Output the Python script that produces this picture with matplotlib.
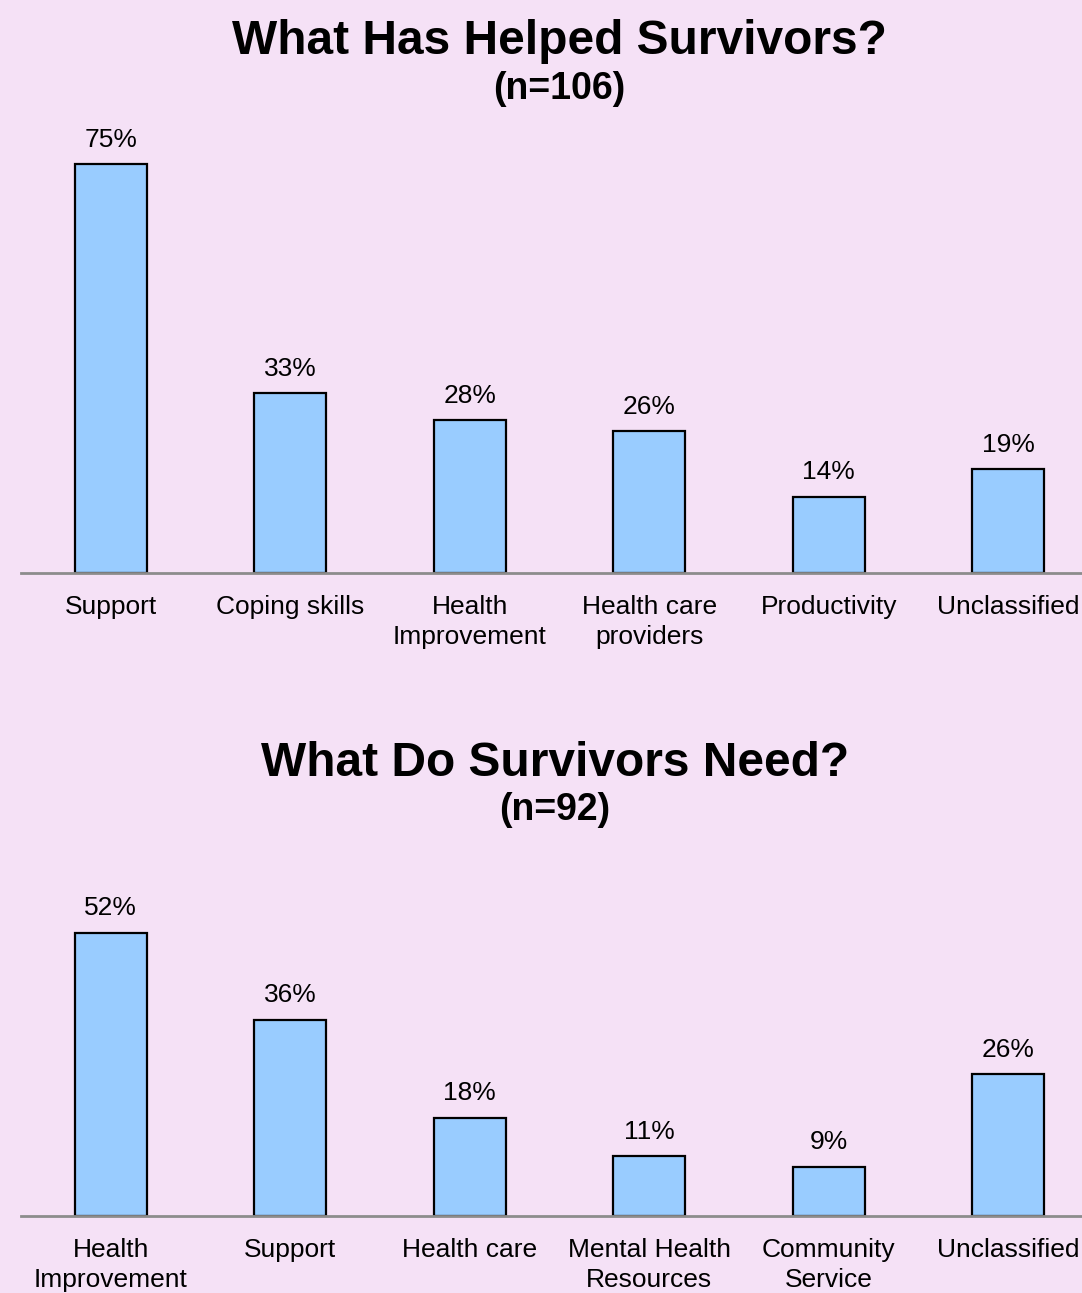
import matplotlib.pyplot as plt

plt.rcParams['font.family'] = ['Liberation Sans', 'DejaVu Sans']

helped_labels = ["Support", "Coping skills", "Health\nImprovement",
                 "Health care\nproviders", "Productivity", "Unclassified"]
helped_pct = [75, 33, 28, 26, 14, 19]

need_labels = ["Health\nImprovement", "Support", "Health care",
               "Mental Health\nResources", "Community\nService", "Unclassified"]
need_pct = [52, 36, 18, 11, 9, 26]

bg = "#F5E1F6"
bar_color = "#99CCFF"

W, H = 1082, 1293
fig = plt.figure(figsize=(W / 100, H / 100), dpi=100, facecolor=bg)


def draw_panel(rect, labels, values, title, subtitle, title_y, sub_y, cx):
    ax = fig.add_axes(rect)
    ax.set_facecolor(bg)
    x = range(len(values))
    ax.bar(x, values, width=0.4, color=bar_color, edgecolor="black", linewidth=1.6, zorder=2)
    for xi, v in zip(x, values):
        ax.annotate(f"{v}%", (xi, v), xytext=(0, 9), textcoords="offset points",
                    ha="center", va="bottom", fontsize=19)
    ax.set_xlim(-0.5, len(values) - 0.5)
    ax.set_ylim(0, 80)
    ax.set_xticks(list(x))
    ax.set_xticklabels(labels, fontsize=19, linespacing=1.32)
    ax.tick_params(axis="x", length=0, pad=15.5)
    ax.set_yticks([])
    for side in ["top", "left", "right"]:
        ax.spines[side].set_visible(False)
    ax.spines["bottom"].set_color("#8C8C8C")
    ax.spines["bottom"].set_linewidth(2)
    ax.spines["bottom"].set_zorder(3)
    fig.text(cx / W, 1 - title_y / H, title, ha="center", va="center",
             fontsize=34.5, fontweight="bold")
    fig.text(cx / W, 1 - sub_y / H, subtitle, ha="center", va="center",
             fontsize=27, fontweight="bold")
    return ax


ax_h = 436 / H
draw_panel([21 / W, (H - 573) / H, 1077 / W, ax_h], helped_labels, helped_pct,
           "What Has Helped Survivors?", "(n=106)", 41, 89, 559)
draw_panel([21 / W, (H - 1216) / H, 1077 / W, ax_h], need_labels, need_pct,
           "What Do Survivors Need?", "(n=92)", 763, 810, 555)

fig.savefig("out.png", dpi=100, facecolor=bg)
